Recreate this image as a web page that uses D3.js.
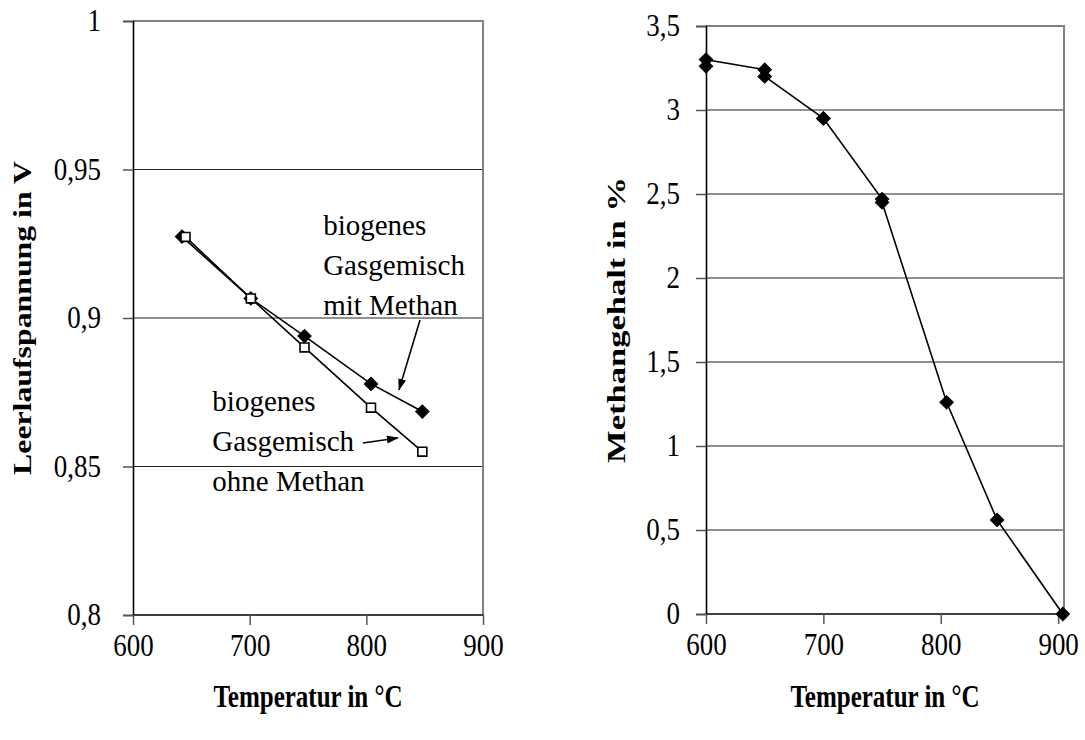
<!DOCTYPE html>
<html>
<head>
<meta charset="utf-8">
<script src="https://cdn.jsdelivr.net/npm/d3@7"></script>
<style>
  body { margin: 0; background: #fff; }
  text { font-family: "Liberation Serif", "DejaVu Serif", serif; fill: #000; }
</style>
</head>
<body>
<svg width="1085" height="740"></svg>
<script>
// left chart: open circuit voltage vs temperature
const tempsMit = [642, 701, 747, 804, 848];
const spannungMit = [0.9274, 0.9066, 0.8939, 0.8778, 0.8685];
const tempsOhne = [645, 701, 747, 804, 848];
const spannungOhne = [0.9273, 0.9066, 0.8901, 0.8698, 0.8550];

// right chart: methane content vs temperature
const tempsMethan = [600, 600, 650, 650, 700, 700, 750, 750, 805, 848, 904];
const methanGehalt = [3.26, 3.30, 3.24, 3.20, 2.95, 2.95, 2.47, 2.45, 1.26, 0.56, 0];

const xTicks = [600, 700, 800, 900];
const leftYTicks = [0.8, 0.85, 0.9, 0.95, 1];
const rightYTicks = [0, 0.5, 1, 1.5, 2, 2.5, 3, 3.5];

const svg = d3.select("svg");
const de = d3.formatLocale({decimal: ",", thousands: ".", grouping: [3], currency: ["", " €"]});
const fmt = d => de.format("")(d);

const diamond = d3.symbol().type(d3.symbolSquare).size(90);
const square = d3.symbol().type(d3.symbolSquare).size(80);

// the original font is a tall, narrow serif: stretch Liberation Serif a bit
const stretch = 1.15;

function panel(opts) {
    const x = d3.scaleLinear().domain(opts.xDomain).range([opts.left, opts.right]);
    const y = d3.scaleLinear().domain(opts.yDomain).range([opts.bottom, opts.top]);
    const g = svg.append("g");

    // gridlines
    g.selectAll("line.grid")
        .data(opts.yTicks.slice(1, -1))
        .enter()
        .append("line")
        .attr("class", "grid")
        .attr("x1", opts.left).attr("x2", opts.right)
        .attr("y1", d => y(d)).attr("y2", d => y(d))
        .attr("stroke", "#222")
        .attr("stroke-width", 1);

    // border top + right
    g.append("path")
        .attr("d", `M${opts.left},${opts.top}H${opts.right}V${opts.bottom}`)
        .attr("fill", "none")
        .attr("stroke", "#808080")
        .attr("stroke-width", 2);

    const yAxis = g.append("g")
        .attr("transform", `translate(${opts.left},0)`)
        .call(d3.axisLeft(y).tickValues(opts.yTicks).tickFormat(fmt).tickSize(10).tickPadding(opts.yPad));
    const xAxis = g.append("g")
        .attr("transform", `translate(0,${opts.bottom})`)
        .call(d3.axisBottom(x).tickValues(xTicks).tickFormat(fmt).tickSize(10).tickPadding(9));

    [yAxis, xAxis].forEach(a => {
        a.select(".domain").attr("stroke", "#000").attr("stroke-width", 1.6);
        a.selectAll(".tick line").attr("stroke", "#555").attr("stroke-width", 1.5);
        a.selectAll("text")
            .attr("font-family", "Liberation Serif, serif")
            .attr("font-size", 27)
            .attr("fill", "#000");
    });
    yAxis.selectAll("text").attr("transform", `scale(1,${stretch})`);
    xAxis.selectAll("text").attr("transform", `translate(0,19) scale(1,${stretch}) translate(0,-19)`);
    // x axis line runs over the full plot width
    xAxis.select(".domain").attr("d", `M${opts.left},0H${opts.right}`);

    g.append("text")
        .attr("transform", `translate(${(opts.left + opts.right) / 2},707) scale(1,1.28)`)
        .attr("text-anchor", "middle")
        .attr("font-size", 25)
        .attr("font-weight", "bold")
        .text("Temperatur in °C");

    const yt = g.append("text")
        .attr("text-anchor", "middle")
        .attr("font-size", 25)
        .attr("font-weight", "bold")
        .text(opts.yTitle);
    const k = opts.yTitleLength / yt.node().getComputedTextLength();
    yt.attr("transform", `translate(${opts.titleX},${(opts.top + opts.bottom) / 2}) rotate(-90) scale(${k},1)`);

    return {g, x, y};
}

function series(p, xs, ys, symbol, fill) {
    const pts = xs.map((t, i) => [t, ys[i]]);
    p.g.append("path")
        .datum(pts)
        .attr("d", d3.line().x(d => p.x(d[0])).y(d => p.y(d[1])))
        .attr("fill", "none")
        .attr("stroke", "#000")
        .attr("stroke-width", 1.6);
    p.g.selectAll(null)
        .data(pts)
        .enter()
        .append("path")
        .attr("d", symbol)
        .attr("transform", d => `translate(${p.x(d[0])},${p.y(d[1])})` + (fill === "#000" ? " rotate(45)" : ""))
        .attr("fill", fill)
        .attr("stroke", "#000")
        .attr("stroke-width", fill === "#000" ? 1 : 1.6);
}

// marker for annotation arrows
svg.append("defs").append("marker")
    .attr("id", "arrow")
    .attr("viewBox", "0 0 12 8")
    .attr("refX", 11).attr("refY", 4)
    .attr("markerWidth", 12).attr("markerHeight", 8)
    .attr("markerUnits", "userSpaceOnUse")
    .attr("orient", "auto")
    .append("path")
    .attr("d", "M0,0L12,4L0,8Z")
    .attr("fill", "#000");

const left = panel({
    xDomain: [600, 900], yDomain: [0.8, 1],
    left: 133, right: 483, top: 21, bottom: 615,
    yTicks: leftYTicks, yPad: 22, titleX: 31, yTitleLength: 314,
    yTitle: "Leerlaufspannung in V"
});
series(left, tempsMit, spannungMit, diamond, "#000");
series(left, tempsOhne, spannungOhne, square, "#fff");

// annotations (positions in data units)
const notes = [
    {t: 763, v: 0.9280, lines: ["biogenes", "Gasgemisch", "mit Methan"]},
    {t: 668, v: 0.8687, lines: ["biogenes", "Gasgemisch", "ohne Methan"]}
];
notes.forEach(n => {
    const txt = left.g.append("text")
        .attr("x", left.x(n.t))
        .attr("y", left.y(n.v))
        .attr("font-size", 29);
    n.lines.forEach((l, i) => {
        txt.append("tspan")
            .attr("x", left.x(n.t))
            .attr("dy", i === 0 ? 0 : 40)
            .text(l);
    });
});
const arrows = [
    [[846, 0.8993], [828, 0.8758]],
    [[797, 0.8579], [827, 0.8596]]
];
left.g.selectAll(null)
    .data(arrows)
    .enter()
    .append("line")
    .attr("x1", d => left.x(d[0][0])).attr("y1", d => left.y(d[0][1]))
    .attr("x2", d => left.x(d[1][0])).attr("y2", d => left.y(d[1][1]))
    .attr("stroke", "#000")
    .attr("stroke-width", 1.6)
    .attr("marker-end", "url(#arrow)");

const right = panel({
    xDomain: [600, 905], yDomain: [0, 3.5],
    left: 706, right: 1064, top: 26, bottom: 614,
    yTicks: rightYTicks, yPad: 16, titleX: 625, yTitleLength: 286,
    yTitle: "Methangehalt in %"
});
series(right, tempsMethan, methanGehalt, diamond, "#000");
</script>
</body>
</html>
